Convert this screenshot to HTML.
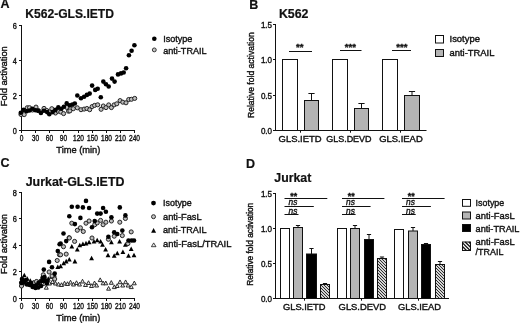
<!DOCTYPE html>
<html><head><meta charset="utf-8"><title>Figure</title>
<style>html,body{margin:0;padding:0;background:#fff;}body{width:520px;height:323px;overflow:hidden;}svg{display:block;will-change:transform;}text{font-family:"Liberation Sans", sans-serif;}</style>
</head><body>
<svg width="520" height="323" viewBox="0 0 520 323" font-family='"Liberation Sans", sans-serif'>
<rect width="520" height="323" fill="#fff"/>
<text x="0.6" y="8.4" font-size="12.5" font-weight="bold" fill="#111" stroke="#111" stroke-width="0.2">A</text>
<text x="249.3" y="8.5" font-size="12.5" font-weight="bold" fill="#111" stroke="#111" stroke-width="0.2">B</text>
<text x="0.4" y="167.4" font-size="12.5" font-weight="bold" fill="#111" stroke="#111" stroke-width="0.2">C</text>
<text x="246.1" y="167.8" font-size="12.5" font-weight="bold" fill="#111" stroke="#111" stroke-width="0.2">D</text>
<text x="25.2" y="17.9" font-size="12.5" font-weight="bold" textLength="88.8" lengthAdjust="spacingAndGlyphs" fill="#111" stroke="#111" stroke-width="0.2">K562-GLS.IETD</text>
<text x="278.9" y="17.9" font-size="12.6" font-weight="bold" textLength="29.6" lengthAdjust="spacingAndGlyphs" fill="#111" stroke="#111" stroke-width="0.2">K562</text>
<text x="25.7" y="185.9" font-size="12.4" font-weight="bold" textLength="98.8" lengthAdjust="spacingAndGlyphs" fill="#111" stroke="#111" stroke-width="0.2">Jurkat-GLS.IETD</text>
<text x="274.3" y="181.6" font-size="12.4" font-weight="bold" textLength="37.0" lengthAdjust="spacingAndGlyphs" fill="#111" stroke="#111" stroke-width="0.2">Jurkat</text>
<line x1="21.5" y1="25.0" x2="21.5" y2="131.0" stroke="#111" stroke-width="1.0"/>
<line x1="19.0" y1="25.5" x2="21.5" y2="25.5" stroke="#111" stroke-width="1.0"/>
<text x="16.9" y="28.5" font-size="8.4" text-anchor="end" textLength="4.1" lengthAdjust="spacingAndGlyphs" fill="#111" stroke="#111" stroke-width="0.38">6</text>
<line x1="19.0" y1="60.5" x2="21.5" y2="60.5" stroke="#111" stroke-width="1.0"/>
<text x="16.9" y="63.5" font-size="8.4" text-anchor="end" textLength="4.1" lengthAdjust="spacingAndGlyphs" fill="#111" stroke="#111" stroke-width="0.38">4</text>
<line x1="19.0" y1="95.5" x2="21.5" y2="95.5" stroke="#111" stroke-width="1.0"/>
<text x="16.9" y="98.5" font-size="8.4" text-anchor="end" textLength="4.1" lengthAdjust="spacingAndGlyphs" fill="#111" stroke="#111" stroke-width="0.38">2</text>
<line x1="19.0" y1="130.5" x2="21.5" y2="130.5" stroke="#111" stroke-width="1.0"/>
<text x="16.9" y="133.5" font-size="8.4" text-anchor="end" textLength="4.1" lengthAdjust="spacingAndGlyphs" fill="#111" stroke="#111" stroke-width="0.38">0</text>
<line x1="21.0" y1="130.5" x2="135.04000000000002" y2="130.5" stroke="#111" stroke-width="1.0"/>
<line x1="21.5" y1="130.5" x2="21.5" y2="133.0" stroke="#111" stroke-width="1.0"/>
<text x="21.5" y="141.1" font-size="8.3" text-anchor="middle" textLength="3.65" lengthAdjust="spacingAndGlyphs" fill="#111" stroke="#111" stroke-width="0.38">0</text>
<line x1="35.5" y1="130.5" x2="35.5" y2="133.0" stroke="#111" stroke-width="1.0"/>
<text x="35.5" y="141.1" font-size="8.3" text-anchor="middle" textLength="7.3" lengthAdjust="spacingAndGlyphs" fill="#111" stroke="#111" stroke-width="0.38">30</text>
<line x1="49.5" y1="130.5" x2="49.5" y2="133.0" stroke="#111" stroke-width="1.0"/>
<text x="49.5" y="141.1" font-size="8.3" text-anchor="middle" textLength="7.3" lengthAdjust="spacingAndGlyphs" fill="#111" stroke="#111" stroke-width="0.38">60</text>
<line x1="63.5" y1="130.5" x2="63.5" y2="133.0" stroke="#111" stroke-width="1.0"/>
<text x="63.5" y="141.1" font-size="8.3" text-anchor="middle" textLength="7.3" lengthAdjust="spacingAndGlyphs" fill="#111" stroke="#111" stroke-width="0.38">90</text>
<line x1="78.5" y1="130.5" x2="78.5" y2="133.0" stroke="#111" stroke-width="1.0"/>
<text x="78.5" y="141.1" font-size="8.3" text-anchor="middle" textLength="10.95" lengthAdjust="spacingAndGlyphs" fill="#111" stroke="#111" stroke-width="0.38">120</text>
<line x1="92.5" y1="130.5" x2="92.5" y2="133.0" stroke="#111" stroke-width="1.0"/>
<text x="92.5" y="141.1" font-size="8.3" text-anchor="middle" textLength="10.95" lengthAdjust="spacingAndGlyphs" fill="#111" stroke="#111" stroke-width="0.38">150</text>
<line x1="106.5" y1="130.5" x2="106.5" y2="133.0" stroke="#111" stroke-width="1.0"/>
<text x="106.5" y="141.1" font-size="8.3" text-anchor="middle" textLength="10.95" lengthAdjust="spacingAndGlyphs" fill="#111" stroke="#111" stroke-width="0.38">180</text>
<line x1="120.5" y1="130.5" x2="120.5" y2="133.0" stroke="#111" stroke-width="1.0"/>
<text x="120.5" y="141.1" font-size="8.3" text-anchor="middle" textLength="10.95" lengthAdjust="spacingAndGlyphs" fill="#111" stroke="#111" stroke-width="0.38">210</text>
<line x1="134.5" y1="130.5" x2="134.5" y2="133.0" stroke="#111" stroke-width="1.0"/>
<text x="134.5" y="141.1" font-size="8.3" text-anchor="middle" textLength="10.95" lengthAdjust="spacingAndGlyphs" fill="#111" stroke="#111" stroke-width="0.38">240</text>
<text x="56.3" y="152.6" font-size="9.3" textLength="44.1" lengthAdjust="spacingAndGlyphs" fill="#111" stroke="#111" stroke-width="0.38">Time (min)</text>
<text x="0" y="0" font-size="9.3" text-anchor="middle" fill="#111" stroke="#111" stroke-width="0.38" textLength="60" lengthAdjust="spacingAndGlyphs" transform="translate(7.0,76.25) rotate(-90)">Fold activation</text>
<line x1="21.5" y1="192.0" x2="21.5" y2="299.0" stroke="#111" stroke-width="1.0"/>
<line x1="19.0" y1="192.5" x2="21.5" y2="192.5" stroke="#111" stroke-width="1.0"/>
<text x="16.9" y="195.5" font-size="8.4" text-anchor="end" textLength="4.1" lengthAdjust="spacingAndGlyphs" fill="#111" stroke="#111" stroke-width="0.38">8</text>
<line x1="19.0" y1="218.5" x2="21.5" y2="218.5" stroke="#111" stroke-width="1.0"/>
<text x="16.9" y="221.5" font-size="8.4" text-anchor="end" textLength="4.1" lengthAdjust="spacingAndGlyphs" fill="#111" stroke="#111" stroke-width="0.38">6</text>
<line x1="19.0" y1="245.5" x2="21.5" y2="245.5" stroke="#111" stroke-width="1.0"/>
<text x="16.9" y="248.5" font-size="8.4" text-anchor="end" textLength="4.1" lengthAdjust="spacingAndGlyphs" fill="#111" stroke="#111" stroke-width="0.38">4</text>
<line x1="19.0" y1="271.5" x2="21.5" y2="271.5" stroke="#111" stroke-width="1.0"/>
<text x="16.9" y="274.5" font-size="8.4" text-anchor="end" textLength="4.1" lengthAdjust="spacingAndGlyphs" fill="#111" stroke="#111" stroke-width="0.38">2</text>
<line x1="19.0" y1="298.5" x2="21.5" y2="298.5" stroke="#111" stroke-width="1.0"/>
<text x="16.9" y="301.5" font-size="8.4" text-anchor="end" textLength="4.1" lengthAdjust="spacingAndGlyphs" fill="#111" stroke="#111" stroke-width="0.38">0</text>
<line x1="21.0" y1="298.5" x2="135.04000000000002" y2="298.5" stroke="#111" stroke-width="1.0"/>
<line x1="21.5" y1="298.5" x2="21.5" y2="301.0" stroke="#111" stroke-width="1.0"/>
<text x="21.5" y="309.1" font-size="8.3" text-anchor="middle" textLength="3.65" lengthAdjust="spacingAndGlyphs" fill="#111" stroke="#111" stroke-width="0.38">0</text>
<line x1="35.5" y1="298.5" x2="35.5" y2="301.0" stroke="#111" stroke-width="1.0"/>
<text x="35.5" y="309.1" font-size="8.3" text-anchor="middle" textLength="7.3" lengthAdjust="spacingAndGlyphs" fill="#111" stroke="#111" stroke-width="0.38">30</text>
<line x1="49.5" y1="298.5" x2="49.5" y2="301.0" stroke="#111" stroke-width="1.0"/>
<text x="49.5" y="309.1" font-size="8.3" text-anchor="middle" textLength="7.3" lengthAdjust="spacingAndGlyphs" fill="#111" stroke="#111" stroke-width="0.38">60</text>
<line x1="63.5" y1="298.5" x2="63.5" y2="301.0" stroke="#111" stroke-width="1.0"/>
<text x="63.5" y="309.1" font-size="8.3" text-anchor="middle" textLength="7.3" lengthAdjust="spacingAndGlyphs" fill="#111" stroke="#111" stroke-width="0.38">90</text>
<line x1="78.5" y1="298.5" x2="78.5" y2="301.0" stroke="#111" stroke-width="1.0"/>
<text x="78.5" y="309.1" font-size="8.3" text-anchor="middle" textLength="10.95" lengthAdjust="spacingAndGlyphs" fill="#111" stroke="#111" stroke-width="0.38">120</text>
<line x1="92.5" y1="298.5" x2="92.5" y2="301.0" stroke="#111" stroke-width="1.0"/>
<text x="92.5" y="309.1" font-size="8.3" text-anchor="middle" textLength="10.95" lengthAdjust="spacingAndGlyphs" fill="#111" stroke="#111" stroke-width="0.38">150</text>
<line x1="106.5" y1="298.5" x2="106.5" y2="301.0" stroke="#111" stroke-width="1.0"/>
<text x="106.5" y="309.1" font-size="8.3" text-anchor="middle" textLength="10.95" lengthAdjust="spacingAndGlyphs" fill="#111" stroke="#111" stroke-width="0.38">180</text>
<line x1="120.5" y1="298.5" x2="120.5" y2="301.0" stroke="#111" stroke-width="1.0"/>
<text x="120.5" y="309.1" font-size="8.3" text-anchor="middle" textLength="10.95" lengthAdjust="spacingAndGlyphs" fill="#111" stroke="#111" stroke-width="0.38">210</text>
<line x1="134.5" y1="298.5" x2="134.5" y2="301.0" stroke="#111" stroke-width="1.0"/>
<text x="134.5" y="309.1" font-size="8.3" text-anchor="middle" textLength="10.95" lengthAdjust="spacingAndGlyphs" fill="#111" stroke="#111" stroke-width="0.38">240</text>
<text x="56.3" y="320.6" font-size="9.3" textLength="44.1" lengthAdjust="spacingAndGlyphs" fill="#111" stroke="#111" stroke-width="0.38">Time (min)</text>
<text x="0" y="0" font-size="9.3" text-anchor="middle" fill="#111" stroke="#111" stroke-width="0.38" textLength="60" lengthAdjust="spacingAndGlyphs" transform="translate(7.0,244.0) rotate(-90)">Fold activation</text>
<circle cx="21" cy="114.5" r="2.05" fill="#bdbdbd" stroke="#1a1a1a" stroke-width="0.95"/>
<circle cx="24.2" cy="114.6" r="2.05" fill="#bdbdbd" stroke="#1a1a1a" stroke-width="0.95"/>
<circle cx="27.3" cy="107.7" r="2.05" fill="#bdbdbd" stroke="#1a1a1a" stroke-width="0.95"/>
<circle cx="29.5" cy="107.7" r="2.05" fill="#bdbdbd" stroke="#1a1a1a" stroke-width="0.95"/>
<circle cx="32.5" cy="110" r="2.05" fill="#bdbdbd" stroke="#1a1a1a" stroke-width="0.95"/>
<circle cx="36" cy="107.1" r="2.05" fill="#bdbdbd" stroke="#1a1a1a" stroke-width="0.95"/>
<circle cx="38.3" cy="110.5" r="2.05" fill="#bdbdbd" stroke="#1a1a1a" stroke-width="0.95"/>
<circle cx="41" cy="112" r="2.05" fill="#bdbdbd" stroke="#1a1a1a" stroke-width="0.95"/>
<circle cx="44" cy="108.4" r="2.05" fill="#bdbdbd" stroke="#1a1a1a" stroke-width="0.95"/>
<circle cx="46.8" cy="110.5" r="2.05" fill="#bdbdbd" stroke="#1a1a1a" stroke-width="0.95"/>
<circle cx="49.6" cy="112" r="2.05" fill="#bdbdbd" stroke="#1a1a1a" stroke-width="0.95"/>
<circle cx="51.8" cy="108.7" r="2.05" fill="#bdbdbd" stroke="#1a1a1a" stroke-width="0.95"/>
<circle cx="55.5" cy="113" r="2.05" fill="#bdbdbd" stroke="#1a1a1a" stroke-width="0.95"/>
<circle cx="58" cy="111.2" r="2.05" fill="#bdbdbd" stroke="#1a1a1a" stroke-width="0.95"/>
<circle cx="60.8" cy="112" r="2.05" fill="#bdbdbd" stroke="#1a1a1a" stroke-width="0.95"/>
<circle cx="63.6" cy="113.6" r="2.05" fill="#bdbdbd" stroke="#1a1a1a" stroke-width="0.95"/>
<circle cx="66.7" cy="107.4" r="2.05" fill="#bdbdbd" stroke="#1a1a1a" stroke-width="0.95"/>
<circle cx="68.5" cy="111.2" r="2.05" fill="#bdbdbd" stroke="#1a1a1a" stroke-width="0.95"/>
<circle cx="69.9" cy="110.9" r="2.05" fill="#bdbdbd" stroke="#1a1a1a" stroke-width="0.95"/>
<circle cx="73.3" cy="108.7" r="2.05" fill="#bdbdbd" stroke="#1a1a1a" stroke-width="0.95"/>
<circle cx="77.3" cy="107.8" r="2.05" fill="#bdbdbd" stroke="#1a1a1a" stroke-width="0.95"/>
<circle cx="81" cy="109.7" r="2.05" fill="#bdbdbd" stroke="#1a1a1a" stroke-width="0.95"/>
<circle cx="84.1" cy="109.1" r="2.05" fill="#bdbdbd" stroke="#1a1a1a" stroke-width="0.95"/>
<circle cx="86.9" cy="108.5" r="2.05" fill="#bdbdbd" stroke="#1a1a1a" stroke-width="0.95"/>
<circle cx="89.7" cy="109.7" r="2.05" fill="#bdbdbd" stroke="#1a1a1a" stroke-width="0.95"/>
<circle cx="92.1" cy="106.6" r="2.05" fill="#bdbdbd" stroke="#1a1a1a" stroke-width="0.95"/>
<circle cx="94.6" cy="105.4" r="2.05" fill="#bdbdbd" stroke="#1a1a1a" stroke-width="0.95"/>
<circle cx="97.7" cy="104.8" r="2.05" fill="#bdbdbd" stroke="#1a1a1a" stroke-width="0.95"/>
<circle cx="101.1" cy="109.3" r="2.05" fill="#bdbdbd" stroke="#1a1a1a" stroke-width="0.95"/>
<circle cx="103.3" cy="106" r="2.05" fill="#bdbdbd" stroke="#1a1a1a" stroke-width="0.95"/>
<circle cx="106" cy="107.6" r="2.05" fill="#bdbdbd" stroke="#1a1a1a" stroke-width="0.95"/>
<circle cx="108.7" cy="104.9" r="2.05" fill="#bdbdbd" stroke="#1a1a1a" stroke-width="0.95"/>
<circle cx="111.4" cy="107.6" r="2.05" fill="#bdbdbd" stroke="#1a1a1a" stroke-width="0.95"/>
<circle cx="114.1" cy="104.9" r="2.05" fill="#bdbdbd" stroke="#1a1a1a" stroke-width="0.95"/>
<circle cx="116.8" cy="103.8" r="2.05" fill="#bdbdbd" stroke="#1a1a1a" stroke-width="0.95"/>
<circle cx="120.1" cy="100.6" r="2.05" fill="#bdbdbd" stroke="#1a1a1a" stroke-width="0.95"/>
<circle cx="122.8" cy="102.2" r="2.05" fill="#bdbdbd" stroke="#1a1a1a" stroke-width="0.95"/>
<circle cx="126" cy="102.8" r="2.05" fill="#bdbdbd" stroke="#1a1a1a" stroke-width="0.95"/>
<circle cx="128.7" cy="99.5" r="2.05" fill="#bdbdbd" stroke="#1a1a1a" stroke-width="0.95"/>
<circle cx="131.4" cy="99.3" r="2.05" fill="#bdbdbd" stroke="#1a1a1a" stroke-width="0.95"/>
<circle cx="134.7" cy="98.4" r="2.05" fill="#bdbdbd" stroke="#1a1a1a" stroke-width="0.95"/>
<circle cx="20.8" cy="112.7" r="2.3" fill="#000"/>
<circle cx="23.6" cy="109.9" r="2.3" fill="#000"/>
<circle cx="26.7" cy="111.2" r="2.3" fill="#000"/>
<circle cx="29.5" cy="110.5" r="2.3" fill="#000"/>
<circle cx="32.3" cy="108.7" r="2.3" fill="#000"/>
<circle cx="35.4" cy="110.2" r="2.3" fill="#000"/>
<circle cx="38.1" cy="110.8" r="2.3" fill="#000"/>
<circle cx="40.9" cy="113" r="2.3" fill="#000"/>
<circle cx="44" cy="110.8" r="2.3" fill="#000"/>
<circle cx="47.1" cy="112.1" r="2.3" fill="#000"/>
<circle cx="49.3" cy="114.3" r="2.3" fill="#000"/>
<circle cx="52.7" cy="112.1" r="2.3" fill="#000"/>
<circle cx="55.5" cy="109.9" r="2.3" fill="#000"/>
<circle cx="58.3" cy="107.4" r="2.3" fill="#000"/>
<circle cx="61.4" cy="108.7" r="2.3" fill="#000"/>
<circle cx="63.9" cy="106.8" r="2.3" fill="#000"/>
<circle cx="66.7" cy="103.4" r="2.3" fill="#000"/>
<circle cx="69.9" cy="105.4" r="2.3" fill="#000"/>
<circle cx="72.4" cy="104.5" r="2.3" fill="#000"/>
<circle cx="74.8" cy="103.5" r="2.3" fill="#000"/>
<circle cx="77.3" cy="95.5" r="2.3" fill="#000"/>
<circle cx="81" cy="98.3" r="2.3" fill="#000"/>
<circle cx="84.1" cy="96.7" r="2.3" fill="#000"/>
<circle cx="86.9" cy="94.9" r="2.3" fill="#000"/>
<circle cx="89.7" cy="93.6" r="2.3" fill="#000"/>
<circle cx="92.1" cy="85.6" r="2.3" fill="#000"/>
<circle cx="95.2" cy="89.9" r="2.3" fill="#000"/>
<circle cx="97.7" cy="88.7" r="2.3" fill="#000"/>
<circle cx="100.8" cy="97.3" r="2.3" fill="#000"/>
<circle cx="103.3" cy="81.6" r="2.3" fill="#000"/>
<circle cx="106" cy="84.3" r="2.3" fill="#000"/>
<circle cx="108.7" cy="86.5" r="2.3" fill="#000"/>
<circle cx="112" cy="78.6" r="2.3" fill="#000"/>
<circle cx="114.6" cy="81.6" r="2.3" fill="#000"/>
<circle cx="118" cy="74.4" r="2.3" fill="#000"/>
<circle cx="121" cy="73.4" r="2.3" fill="#000"/>
<circle cx="123.7" cy="72.5" r="2.3" fill="#000"/>
<circle cx="126.1" cy="68.2" r="2.3" fill="#000"/>
<circle cx="128.9" cy="55.2" r="2.3" fill="#000"/>
<circle cx="131.6" cy="50.8" r="2.3" fill="#000"/>
<circle cx="134.4" cy="45.2" r="2.3" fill="#000"/>
<circle cx="154.3" cy="38.8" r="2.3" fill="#000"/>
<text x="163.2" y="41.8" font-size="9.3" textLength="29.2" lengthAdjust="spacingAndGlyphs" fill="#111" stroke="#111" stroke-width="0.38">Isotype</text>
<circle cx="154.3" cy="49.9" r="1.95" fill="#c4c4c4" stroke="#222" stroke-width="0.9"/>
<text x="163.2" y="53.6" font-size="9.3" textLength="43.4" lengthAdjust="spacingAndGlyphs" fill="#111" stroke="#111" stroke-width="0.38">anti-TRAIL</text>
<line x1="275.5" y1="24.0" x2="275.5" y2="131.0" stroke="#111" stroke-width="1.0"/>
<line x1="273.0" y1="24.5" x2="275.5" y2="24.5" stroke="#111" stroke-width="1.0"/>
<text x="272.1" y="27.5" font-size="8.5" text-anchor="end" textLength="11.2" lengthAdjust="spacingAndGlyphs" fill="#111" stroke="#111" stroke-width="0.38">1.5</text>
<line x1="273.0" y1="59.5" x2="275.5" y2="59.5" stroke="#111" stroke-width="1.0"/>
<text x="272.1" y="62.5" font-size="8.5" text-anchor="end" textLength="11.2" lengthAdjust="spacingAndGlyphs" fill="#111" stroke="#111" stroke-width="0.38">1.0</text>
<line x1="273.0" y1="95.5" x2="275.5" y2="95.5" stroke="#111" stroke-width="1.0"/>
<text x="272.1" y="98.5" font-size="8.5" text-anchor="end" textLength="11.2" lengthAdjust="spacingAndGlyphs" fill="#111" stroke="#111" stroke-width="0.38">0.5</text>
<line x1="273.0" y1="130.5" x2="275.5" y2="130.5" stroke="#111" stroke-width="1.0"/>
<text x="272.1" y="133.5" font-size="8.5" text-anchor="end" textLength="11.2" lengthAdjust="spacingAndGlyphs" fill="#111" stroke="#111" stroke-width="0.38">0.0</text>
<line x1="275.0" y1="130.5" x2="426.5" y2="130.5" stroke="#111" stroke-width="1.0"/>
<line x1="300.5" y1="130.5" x2="300.5" y2="132.7" stroke="#111" stroke-width="1.0"/>
<line x1="350.5" y1="130.5" x2="350.5" y2="132.7" stroke="#111" stroke-width="1.0"/>
<line x1="400.5" y1="130.5" x2="400.5" y2="132.7" stroke="#111" stroke-width="1.0"/>
<text x="278.6" y="142.1" font-size="8.8" textLength="43" lengthAdjust="spacingAndGlyphs" fill="#111" stroke="#111" stroke-width="0.38">GLS.IETD</text>
<text x="326.2" y="142.1" font-size="8.8" textLength="45.4" lengthAdjust="spacingAndGlyphs" fill="#111" stroke="#111" stroke-width="0.38">GLS.DEVD</text>
<text x="379.3" y="142.1" font-size="8.8" textLength="43.4" lengthAdjust="spacingAndGlyphs" fill="#111" stroke="#111" stroke-width="0.38">GLS.IEAD</text>
<text x="0" y="0" font-size="8.4" text-anchor="middle" fill="#111" stroke="#111" stroke-width="0.38" textLength="85.8" lengthAdjust="spacingAndGlyphs" transform="translate(254.3,75.15) rotate(-90)">Relative fold activation</text>
<rect x="282.5" y="59.5" width="15.0" height="71.0" fill="#fff" stroke="#111" stroke-width="1.0"/>
<rect x="332.5" y="59.5" width="15.0" height="71.0" fill="#fff" stroke="#111" stroke-width="1.0"/>
<rect x="382.5" y="59.5" width="15.0" height="71.0" fill="#fff" stroke="#111" stroke-width="1.0"/>
<line x1="311.5" y1="93.5" x2="311.5" y2="100.5" stroke="#111" stroke-width="1.0"/>
<line x1="308.4" y1="93.5" x2="314.6" y2="93.5" stroke="#111" stroke-width="1.0"/>
<rect x="304.5" y="100.5" width="14.0" height="30.0" fill="#b4b4b4" stroke="#111" stroke-width="1.0"/>
<line x1="361.5" y1="103.5" x2="361.5" y2="108.5" stroke="#111" stroke-width="1.0"/>
<line x1="358.4" y1="103.5" x2="364.6" y2="103.5" stroke="#111" stroke-width="1.0"/>
<rect x="354.5" y="108.5" width="14.0" height="22.0" fill="#b4b4b4" stroke="#111" stroke-width="1.0"/>
<line x1="412.0" y1="91.5" x2="412.0" y2="95.5" stroke="#111" stroke-width="1.0"/>
<line x1="408.9" y1="91.5" x2="415.1" y2="91.5" stroke="#111" stroke-width="1.0"/>
<rect x="404.5" y="95.5" width="15.0" height="35.0" fill="#b4b4b4" stroke="#111" stroke-width="1.0"/>
<line x1="289.0" y1="51.5" x2="312.0" y2="51.5" stroke="#111" stroke-width="1.0"/>
<text x="299.8" y="50.4" font-size="9.6" text-anchor="middle" font-weight="bold" fill="#111" stroke="#111" stroke-width="0.35">**</text>
<line x1="340.0" y1="50.5" x2="361.5" y2="50.5" stroke="#111" stroke-width="1.0"/>
<text x="350.3" y="50.1" font-size="9.6" text-anchor="middle" font-weight="bold" fill="#111" stroke="#111" stroke-width="0.35">***</text>
<line x1="392.0" y1="50.5" x2="411.0" y2="50.5" stroke="#111" stroke-width="1.0"/>
<text x="401.8" y="49.8" font-size="9.6" text-anchor="middle" font-weight="bold" fill="#111" stroke="#111" stroke-width="0.35">***</text>
<rect x="435.5" y="35.5" width="8.0" height="7.5" fill="#fff" stroke="#111" stroke-width="1.0"/>
<rect x="435.5" y="49.5" width="8.0" height="7.0" fill="#b4b4b4" stroke="#111" stroke-width="1.0"/>
<text x="449.5" y="42.2" font-size="9.3" textLength="30.5" lengthAdjust="spacingAndGlyphs" fill="#111" stroke="#111" stroke-width="0.38">Isotype</text>
<text x="449.5" y="56.2" font-size="9.3" textLength="44.9" lengthAdjust="spacingAndGlyphs" fill="#111" stroke="#111" stroke-width="0.38">anti-TRAIL</text>
<polygon points="21.50,282.76 19.53,286.50 23.47,286.50" fill="#e8e8e8" stroke="#1a1a1a" stroke-width="0.9"/>
<polygon points="24.50,280.76 22.53,284.50 26.47,284.50" fill="#e8e8e8" stroke="#1a1a1a" stroke-width="0.9"/>
<polygon points="27.50,281.76 25.53,285.50 29.47,285.50" fill="#e8e8e8" stroke="#1a1a1a" stroke-width="0.9"/>
<polygon points="30.50,281.26 28.53,285.00 32.47,285.00" fill="#e8e8e8" stroke="#1a1a1a" stroke-width="0.9"/>
<polygon points="33.50,280.76 31.53,284.50 35.47,284.50" fill="#e8e8e8" stroke="#1a1a1a" stroke-width="0.9"/>
<polygon points="36.50,281.76 34.53,285.50 38.47,285.50" fill="#e8e8e8" stroke="#1a1a1a" stroke-width="0.9"/>
<polygon points="39.50,280.76 37.53,284.50 41.47,284.50" fill="#e8e8e8" stroke="#1a1a1a" stroke-width="0.9"/>
<polygon points="42.50,281.76 40.53,285.50 44.47,285.50" fill="#e8e8e8" stroke="#1a1a1a" stroke-width="0.9"/>
<polygon points="46.30,285.46 44.33,289.20 48.27,289.20" fill="#e8e8e8" stroke="#1a1a1a" stroke-width="0.9"/>
<polygon points="49.50,281.26 47.53,285.00 51.47,285.00" fill="#e8e8e8" stroke="#1a1a1a" stroke-width="0.9"/>
<polygon points="52.50,279.76 50.53,283.50 54.47,283.50" fill="#e8e8e8" stroke="#1a1a1a" stroke-width="0.9"/>
<polygon points="55.50,281.26 53.53,285.00 57.47,285.00" fill="#e8e8e8" stroke="#1a1a1a" stroke-width="0.9"/>
<polygon points="58.50,282.26 56.53,286.00 60.47,286.00" fill="#e8e8e8" stroke="#1a1a1a" stroke-width="0.9"/>
<polygon points="61.50,282.76 59.53,286.50 63.47,286.50" fill="#e8e8e8" stroke="#1a1a1a" stroke-width="0.9"/>
<polygon points="64.50,281.26 62.53,285.00 66.47,285.00" fill="#e8e8e8" stroke="#1a1a1a" stroke-width="0.9"/>
<polygon points="67.50,281.76 65.53,285.50 69.47,285.50" fill="#e8e8e8" stroke="#1a1a1a" stroke-width="0.9"/>
<polygon points="70.50,280.26 68.53,284.00 72.47,284.00" fill="#e8e8e8" stroke="#1a1a1a" stroke-width="0.9"/>
<polygon points="73.50,282.26 71.53,286.00 75.47,286.00" fill="#e8e8e8" stroke="#1a1a1a" stroke-width="0.9"/>
<polygon points="76.50,280.76 74.53,284.50 78.47,284.50" fill="#e8e8e8" stroke="#1a1a1a" stroke-width="0.9"/>
<polygon points="79.50,282.26 77.53,286.00 81.47,286.00" fill="#e8e8e8" stroke="#1a1a1a" stroke-width="0.9"/>
<polygon points="82.50,279.26 80.53,283.00 84.47,283.00" fill="#e8e8e8" stroke="#1a1a1a" stroke-width="0.9"/>
<polygon points="85.50,282.76 83.53,286.50 87.47,286.50" fill="#e8e8e8" stroke="#1a1a1a" stroke-width="0.9"/>
<polygon points="88.50,280.76 86.53,284.50 90.47,284.50" fill="#e8e8e8" stroke="#1a1a1a" stroke-width="0.9"/>
<polygon points="91.50,283.76 89.53,287.50 93.47,287.50" fill="#e8e8e8" stroke="#1a1a1a" stroke-width="0.9"/>
<polygon points="94.50,281.06 92.53,284.80 96.47,284.80" fill="#e8e8e8" stroke="#1a1a1a" stroke-width="0.9"/>
<polygon points="96.60,283.26 94.63,287.00 98.57,287.00" fill="#e8e8e8" stroke="#1a1a1a" stroke-width="0.9"/>
<polygon points="100.20,277.86 98.23,281.60 102.17,281.60" fill="#e8e8e8" stroke="#1a1a1a" stroke-width="0.9"/>
<polygon points="103.10,281.06 101.13,284.80 105.07,284.80" fill="#e8e8e8" stroke="#1a1a1a" stroke-width="0.9"/>
<polygon points="105.80,281.06 103.83,284.80 107.77,284.80" fill="#e8e8e8" stroke="#1a1a1a" stroke-width="0.9"/>
<polygon points="108.60,286.46 106.63,290.20 110.57,290.20" fill="#e8e8e8" stroke="#1a1a1a" stroke-width="0.9"/>
<polygon points="111.30,280.56 109.33,284.30 113.27,284.30" fill="#e8e8e8" stroke="#1a1a1a" stroke-width="0.9"/>
<polygon points="114.30,284.86 112.33,288.60 116.27,288.60" fill="#e8e8e8" stroke="#1a1a1a" stroke-width="0.9"/>
<polygon points="117.20,283.76 115.23,287.50 119.17,287.50" fill="#e8e8e8" stroke="#1a1a1a" stroke-width="0.9"/>
<polygon points="120.00,279.96 118.03,283.70 121.97,283.70" fill="#e8e8e8" stroke="#1a1a1a" stroke-width="0.9"/>
<polygon points="122.70,283.26 120.73,287.00 124.67,287.00" fill="#e8e8e8" stroke="#1a1a1a" stroke-width="0.9"/>
<polygon points="125.60,279.96 123.63,283.70 127.57,283.70" fill="#e8e8e8" stroke="#1a1a1a" stroke-width="0.9"/>
<polygon points="128.10,283.26 126.13,287.00 130.07,287.00" fill="#e8e8e8" stroke="#1a1a1a" stroke-width="0.9"/>
<polygon points="131.30,284.86 129.33,288.60 133.27,288.60" fill="#e8e8e8" stroke="#1a1a1a" stroke-width="0.9"/>
<polygon points="134.30,281.06 132.33,284.80 136.27,284.80" fill="#e8e8e8" stroke="#1a1a1a" stroke-width="0.9"/>
<polygon points="21.30,278.26 18.90,282.82 23.70,282.82" fill="#000"/>
<polygon points="24.30,272.66 21.90,277.22 26.70,277.22" fill="#000"/>
<polygon points="27.30,276.26 24.90,280.82 29.70,280.82" fill="#000"/>
<polygon points="30.30,278.26 27.90,282.82 32.70,282.82" fill="#000"/>
<polygon points="33.30,280.26 30.90,284.82 35.70,284.82" fill="#000"/>
<polygon points="36.30,279.26 33.90,283.82 38.70,283.82" fill="#000"/>
<polygon points="39.30,278.76 36.90,283.32 41.70,283.32" fill="#000"/>
<polygon points="42.30,277.26 39.90,281.82 44.70,281.82" fill="#000"/>
<polygon points="45.30,276.76 42.90,281.32 47.70,281.32" fill="#000"/>
<polygon points="48.30,276.26 45.90,280.82 50.70,280.82" fill="#000"/>
<polygon points="51.30,274.26 48.90,278.82 53.70,278.82" fill="#000"/>
<polygon points="54.30,272.26 51.90,276.82 56.70,276.82" fill="#000"/>
<polygon points="57.80,264.56 55.40,269.12 60.20,269.12" fill="#000"/>
<polygon points="60.60,263.76 58.20,268.32 63.00,268.32" fill="#000"/>
<polygon points="63.70,260.66 61.30,265.22 66.10,265.22" fill="#000"/>
<polygon points="66.20,258.86 63.80,263.42 68.60,263.42" fill="#000"/>
<polygon points="69.30,256.96 66.90,261.52 71.70,261.52" fill="#000"/>
<polygon points="71.80,243.96 69.40,248.52 74.20,248.52" fill="#000"/>
<polygon points="74.90,258.86 72.50,263.42 77.30,263.42" fill="#000"/>
<polygon points="77.30,247.06 74.90,251.62 79.70,251.62" fill="#000"/>
<polygon points="79.80,242.76 77.40,247.32 82.20,247.32" fill="#000"/>
<polygon points="82.90,241.46 80.50,246.02 85.30,246.02" fill="#000"/>
<polygon points="86.00,240.86 83.60,245.42 88.40,245.42" fill="#000"/>
<polygon points="89.10,239.66 86.70,244.22 91.50,244.22" fill="#000"/>
<polygon points="91.60,255.76 89.20,260.32 94.00,260.32" fill="#000"/>
<polygon points="94.00,239.06 91.60,243.62 96.40,243.62" fill="#000"/>
<polygon points="97.20,237.76 94.80,242.32 99.60,242.32" fill="#000"/>
<polygon points="100.60,239.06 98.20,243.62 103.00,243.62" fill="#000"/>
<polygon points="102.50,242.16 100.10,246.72 104.90,246.72" fill="#000"/>
<polygon points="105.60,247.06 103.20,251.62 108.00,251.62" fill="#000"/>
<polygon points="108.00,252.66 105.60,257.22 110.40,257.22" fill="#000"/>
<polygon points="111.40,239.66 109.00,244.22 113.80,244.22" fill="#000"/>
<polygon points="114.20,253.26 111.80,257.82 116.60,257.82" fill="#000"/>
<polygon points="117.30,250.76 114.90,255.32 119.70,255.32" fill="#000"/>
<polygon points="119.60,239.06 117.20,243.62 122.00,243.62" fill="#000"/>
<polygon points="122.90,249.56 120.50,254.12 125.30,254.12" fill="#000"/>
<polygon points="125.40,242.16 123.00,246.72 127.80,246.72" fill="#000"/>
<polygon points="128.50,253.26 126.10,257.82 130.90,257.82" fill="#000"/>
<polygon points="131.20,246.46 128.80,251.02 133.60,251.02" fill="#000"/>
<polygon points="134.00,252.66 131.60,257.22 136.40,257.22" fill="#000"/>
<circle cx="21.5" cy="286" r="2.05" fill="#bdbdbd" stroke="#1a1a1a" stroke-width="0.95"/>
<circle cx="24.5" cy="283" r="2.05" fill="#bdbdbd" stroke="#1a1a1a" stroke-width="0.95"/>
<circle cx="27.5" cy="282" r="2.05" fill="#bdbdbd" stroke="#1a1a1a" stroke-width="0.95"/>
<circle cx="30.5" cy="284" r="2.05" fill="#bdbdbd" stroke="#1a1a1a" stroke-width="0.95"/>
<circle cx="33.5" cy="283" r="2.05" fill="#bdbdbd" stroke="#1a1a1a" stroke-width="0.95"/>
<circle cx="36.5" cy="281.5" r="2.05" fill="#bdbdbd" stroke="#1a1a1a" stroke-width="0.95"/>
<circle cx="39.5" cy="282.5" r="2.05" fill="#bdbdbd" stroke="#1a1a1a" stroke-width="0.95"/>
<circle cx="43.3" cy="274.8" r="2.05" fill="#bdbdbd" stroke="#1a1a1a" stroke-width="0.95"/>
<circle cx="46" cy="280" r="2.05" fill="#bdbdbd" stroke="#1a1a1a" stroke-width="0.95"/>
<circle cx="49.1" cy="272" r="2.05" fill="#bdbdbd" stroke="#1a1a1a" stroke-width="0.95"/>
<circle cx="52" cy="276" r="2.05" fill="#bdbdbd" stroke="#1a1a1a" stroke-width="0.95"/>
<circle cx="54.7" cy="279" r="2.05" fill="#bdbdbd" stroke="#1a1a1a" stroke-width="0.95"/>
<circle cx="57.2" cy="260.5" r="2.05" fill="#bdbdbd" stroke="#1a1a1a" stroke-width="0.95"/>
<circle cx="59.4" cy="254.7" r="2.05" fill="#bdbdbd" stroke="#1a1a1a" stroke-width="0.95"/>
<circle cx="60.6" cy="254.8" r="2.05" fill="#bdbdbd" stroke="#1a1a1a" stroke-width="0.95"/>
<circle cx="63.5" cy="246.7" r="2.05" fill="#bdbdbd" stroke="#1a1a1a" stroke-width="0.95"/>
<circle cx="66.2" cy="254.1" r="2.05" fill="#bdbdbd" stroke="#1a1a1a" stroke-width="0.95"/>
<circle cx="69.1" cy="237.7" r="2.05" fill="#bdbdbd" stroke="#1a1a1a" stroke-width="0.95"/>
<circle cx="69.3" cy="238" r="2.05" fill="#bdbdbd" stroke="#1a1a1a" stroke-width="0.95"/>
<circle cx="71.8" cy="223.2" r="2.05" fill="#bdbdbd" stroke="#1a1a1a" stroke-width="0.95"/>
<circle cx="74.6" cy="241.4" r="2.05" fill="#bdbdbd" stroke="#1a1a1a" stroke-width="0.95"/>
<circle cx="77.3" cy="230.3" r="2.05" fill="#bdbdbd" stroke="#1a1a1a" stroke-width="0.95"/>
<circle cx="80.4" cy="227.8" r="2.05" fill="#bdbdbd" stroke="#1a1a1a" stroke-width="0.95"/>
<circle cx="83.3" cy="231.5" r="2.05" fill="#bdbdbd" stroke="#1a1a1a" stroke-width="0.95"/>
<circle cx="86" cy="223.2" r="2.05" fill="#bdbdbd" stroke="#1a1a1a" stroke-width="0.95"/>
<circle cx="89.1" cy="221" r="2.05" fill="#bdbdbd" stroke="#1a1a1a" stroke-width="0.95"/>
<circle cx="92" cy="238" r="2.05" fill="#bdbdbd" stroke="#1a1a1a" stroke-width="0.95"/>
<circle cx="94.7" cy="224.7" r="2.05" fill="#bdbdbd" stroke="#1a1a1a" stroke-width="0.95"/>
<circle cx="97.2" cy="222.9" r="2.05" fill="#bdbdbd" stroke="#1a1a1a" stroke-width="0.95"/>
<circle cx="100.6" cy="220.4" r="2.05" fill="#bdbdbd" stroke="#1a1a1a" stroke-width="0.95"/>
<circle cx="103.1" cy="224.7" r="2.05" fill="#bdbdbd" stroke="#1a1a1a" stroke-width="0.95"/>
<circle cx="105.9" cy="222.2" r="2.05" fill="#bdbdbd" stroke="#1a1a1a" stroke-width="0.95"/>
<circle cx="108.4" cy="239.3" r="2.05" fill="#bdbdbd" stroke="#1a1a1a" stroke-width="0.95"/>
<circle cx="111.4" cy="221" r="2.05" fill="#bdbdbd" stroke="#1a1a1a" stroke-width="0.95"/>
<circle cx="114.2" cy="236.2" r="2.05" fill="#bdbdbd" stroke="#1a1a1a" stroke-width="0.95"/>
<circle cx="119.8" cy="222.2" r="2.05" fill="#bdbdbd" stroke="#1a1a1a" stroke-width="0.95"/>
<circle cx="122.3" cy="235.6" r="2.05" fill="#bdbdbd" stroke="#1a1a1a" stroke-width="0.95"/>
<circle cx="125.4" cy="218.5" r="2.05" fill="#bdbdbd" stroke="#1a1a1a" stroke-width="0.95"/>
<circle cx="127.9" cy="243.6" r="2.05" fill="#bdbdbd" stroke="#1a1a1a" stroke-width="0.95"/>
<circle cx="131.2" cy="231.9" r="2.05" fill="#bdbdbd" stroke="#1a1a1a" stroke-width="0.95"/>
<circle cx="21.3" cy="283" r="2.3" fill="#000"/>
<circle cx="24.1" cy="281" r="2.3" fill="#000"/>
<circle cx="27" cy="284.5" r="2.3" fill="#000"/>
<circle cx="29.8" cy="285" r="2.3" fill="#000"/>
<circle cx="32.6" cy="287" r="2.3" fill="#000"/>
<circle cx="35.5" cy="288" r="2.3" fill="#000"/>
<circle cx="38.3" cy="287.5" r="2.3" fill="#000"/>
<circle cx="41.1" cy="286" r="2.3" fill="#000"/>
<circle cx="43.8" cy="269.6" r="2.3" fill="#000"/>
<circle cx="46.8" cy="283.5" r="2.3" fill="#000"/>
<circle cx="49.1" cy="261.9" r="2.3" fill="#000"/>
<circle cx="52" cy="267.3" r="2.3" fill="#000"/>
<circle cx="54.7" cy="273.5" r="2.3" fill="#000"/>
<circle cx="57.8" cy="251" r="2.3" fill="#000"/>
<circle cx="59.6" cy="244.2" r="2.3" fill="#000"/>
<circle cx="60.6" cy="243.6" r="2.3" fill="#000"/>
<circle cx="63.5" cy="233.5" r="2.3" fill="#000"/>
<circle cx="66.2" cy="241.1" r="2.3" fill="#000"/>
<circle cx="69.3" cy="216.3" r="2.3" fill="#000"/>
<circle cx="71.8" cy="206.8" r="2.3" fill="#000"/>
<circle cx="74.9" cy="224.1" r="2.3" fill="#000"/>
<circle cx="77.6" cy="206.8" r="2.3" fill="#000"/>
<circle cx="80.4" cy="217.9" r="2.3" fill="#000"/>
<circle cx="82.9" cy="207.4" r="2.3" fill="#000"/>
<circle cx="86" cy="200.9" r="2.3" fill="#000"/>
<circle cx="89.1" cy="208" r="2.3" fill="#000"/>
<circle cx="92" cy="227.2" r="2.3" fill="#000"/>
<circle cx="94.7" cy="221" r="2.3" fill="#000"/>
<circle cx="97.2" cy="213.6" r="2.3" fill="#000"/>
<circle cx="100.6" cy="213.6" r="2.3" fill="#000"/>
<circle cx="103.1" cy="208" r="2.3" fill="#000"/>
<circle cx="105.9" cy="211.7" r="2.3" fill="#000"/>
<circle cx="108.4" cy="236.8" r="2.3" fill="#000"/>
<circle cx="111.4" cy="217.3" r="2.3" fill="#000"/>
<circle cx="114.2" cy="232.2" r="2.3" fill="#000"/>
<circle cx="117.3" cy="234" r="2.3" fill="#000"/>
<circle cx="119.8" cy="207.4" r="2.3" fill="#000"/>
<circle cx="122.3" cy="230.6" r="2.3" fill="#000"/>
<circle cx="125.4" cy="215.4" r="2.3" fill="#000"/>
<circle cx="128.5" cy="240.5" r="2.3" fill="#000"/>
<circle cx="131.6" cy="240.5" r="2.3" fill="#000"/>
<circle cx="134" cy="240.5" r="2.3" fill="#000"/>
<circle cx="44.5" cy="281" r="2.3" fill="#000"/>
<circle cx="38.5" cy="283" r="2.3" fill="#000"/>
<circle cx="22" cy="279" r="2.3" fill="#000"/>
<circle cx="23.5" cy="282.5" r="2.3" fill="#000"/>
<circle cx="26" cy="280" r="2.3" fill="#000"/>
<circle cx="28" cy="284" r="2.3" fill="#000"/>
<circle cx="31" cy="283" r="2.3" fill="#000"/>
<circle cx="33.5" cy="286" r="2.3" fill="#000"/>
<circle cx="36" cy="285.5" r="2.3" fill="#000"/>
<circle cx="41.5" cy="281" r="2.3" fill="#000"/>
<circle cx="42.5" cy="278" r="2.3" fill="#000"/>
<circle cx="44.5" cy="277" r="2.3" fill="#000"/>
<circle cx="47" cy="281" r="2.3" fill="#000"/>
<circle cx="153.5" cy="203.1" r="2.4" fill="#000"/>
<circle cx="153.5" cy="216.7" r="2.0" fill="#c4c4c4" stroke="#222" stroke-width="0.95"/>
<polygon points="153.6,228.0 151.1,232.7 156.1,232.7" fill="#000"/>
<polygon points="153.7,242.9 151.4,246.7 156.0,246.7" fill="#eee" stroke="#222" stroke-width="0.85"/>
<text x="163.0" y="206.2" font-size="9.3" textLength="28.8" lengthAdjust="spacingAndGlyphs" fill="#111" stroke="#111" stroke-width="0.38">Isotype</text>
<text x="163.0" y="219.6" font-size="9.3" textLength="38.6" lengthAdjust="spacingAndGlyphs" fill="#111" stroke="#111" stroke-width="0.38">anti-FasL</text>
<text x="163.0" y="233.2" font-size="9.3" textLength="43.5" lengthAdjust="spacingAndGlyphs" fill="#111" stroke="#111" stroke-width="0.38">anti-TRAIL</text>
<text x="163.0" y="247.2" font-size="9.3" textLength="68.4" lengthAdjust="spacingAndGlyphs" fill="#111" stroke="#111" stroke-width="0.38">anti-FasL/TRAIL</text>
<line x1="275.5" y1="193.0" x2="275.5" y2="299.0" stroke="#111" stroke-width="1.0"/>
<line x1="273.0" y1="193.5" x2="275.5" y2="193.5" stroke="#111" stroke-width="1.0"/>
<text x="272.1" y="196.5" font-size="8.5" text-anchor="end" textLength="11.2" lengthAdjust="spacingAndGlyphs" fill="#111" stroke="#111" stroke-width="0.38">1.5</text>
<line x1="273.0" y1="228.5" x2="275.5" y2="228.5" stroke="#111" stroke-width="1.0"/>
<text x="272.1" y="231.5" font-size="8.5" text-anchor="end" textLength="11.2" lengthAdjust="spacingAndGlyphs" fill="#111" stroke="#111" stroke-width="0.38">1.0</text>
<line x1="273.0" y1="263.5" x2="275.5" y2="263.5" stroke="#111" stroke-width="1.0"/>
<text x="272.1" y="266.5" font-size="8.5" text-anchor="end" textLength="11.2" lengthAdjust="spacingAndGlyphs" fill="#111" stroke="#111" stroke-width="0.38">0.5</text>
<line x1="273.0" y1="298.5" x2="275.5" y2="298.5" stroke="#111" stroke-width="1.0"/>
<text x="272.1" y="301.5" font-size="8.5" text-anchor="end" textLength="11.2" lengthAdjust="spacingAndGlyphs" fill="#111" stroke="#111" stroke-width="0.38">0.0</text>
<line x1="275.0" y1="298.5" x2="449.0" y2="298.5" stroke="#111" stroke-width="1.0"/>
<line x1="304.5" y1="298.5" x2="304.5" y2="300.7" stroke="#111" stroke-width="1.0"/>
<line x1="361.5" y1="298.5" x2="361.5" y2="300.7" stroke="#111" stroke-width="1.0"/>
<line x1="418.5" y1="298.5" x2="418.5" y2="300.7" stroke="#111" stroke-width="1.0"/>
<text x="283.0" y="310.1" font-size="8.8" textLength="42.4" lengthAdjust="spacingAndGlyphs" fill="#111" stroke="#111" stroke-width="0.38">GLS.IETD</text>
<text x="338.6" y="310.1" font-size="8.8" textLength="47.4" lengthAdjust="spacingAndGlyphs" fill="#111" stroke="#111" stroke-width="0.38">GLS.DEVD</text>
<text x="398.0" y="310.1" font-size="8.8" textLength="43.0" lengthAdjust="spacingAndGlyphs" fill="#111" stroke="#111" stroke-width="0.38">GLS.IEAD</text>
<text x="0" y="0" font-size="8.4" text-anchor="middle" fill="#111" stroke="#111" stroke-width="0.38" textLength="83.0" lengthAdjust="spacingAndGlyphs" transform="translate(253.0,244.3) rotate(-90)">Relative fold activation</text>
<defs><pattern id="hatch" patternUnits="userSpaceOnUse" x="0" y="0" width="2.6" height="2.6"><rect width="2.6" height="2.6" fill="#fff"/><path d="M-1,-1 L3.6,3.6 M-1,1.6 L1,3.6 M1.6,-1 L3.6,1" stroke="#111" stroke-width="1.05"/></pattern></defs>
<rect x="280.5" y="228.5" width="9.0" height="70.0" fill="#fff" stroke="#111" stroke-width="1.0"/>
<line x1="298.0" y1="225.5" x2="298.0" y2="227.5" stroke="#111" stroke-width="1.0"/>
<line x1="295.9" y1="225.5" x2="300.1" y2="225.5" stroke="#111" stroke-width="1.0"/>
<rect x="293.5" y="227.5" width="9.0" height="71.0" fill="#b4b4b4" stroke="#111" stroke-width="1.0"/>
<line x1="311.5" y1="248.5" x2="311.5" y2="254.0" stroke="#111" stroke-width="1.0"/>
<line x1="309.4" y1="248.5" x2="313.6" y2="248.5" stroke="#111" stroke-width="1.0"/>
<rect x="306.5" y="254.0" width="10.0" height="44.5" fill="#000" stroke="#111" stroke-width="1.0"/>
<line x1="325.0" y1="283.5" x2="325.0" y2="284.5" stroke="#111" stroke-width="1.0"/>
<line x1="322.9" y1="283.5" x2="327.1" y2="283.5" stroke="#111" stroke-width="1.0"/>
<rect x="320.5" y="284.5" width="9.0" height="14.0" fill="#fff"/>
<path d="M326.50,284.50L329.50,287.50M323.50,284.50L329.50,290.50M320.50,284.50L329.50,293.50M320.50,287.50L329.50,296.50M320.50,290.50L328.50,298.50M320.50,293.50L325.50,298.50M320.50,296.50L322.50,298.50" stroke="#111" stroke-width="1.05" fill="none"/>
<rect x="320.5" y="284.5" width="9.0" height="14.0" fill="none" stroke="#111" stroke-width="1.0"/>
<rect x="337.5" y="228.5" width="9.0" height="70.0" fill="#fff" stroke="#111" stroke-width="1.0"/>
<line x1="355.0" y1="225.5" x2="355.0" y2="228.5" stroke="#111" stroke-width="1.0"/>
<line x1="352.9" y1="225.5" x2="357.1" y2="225.5" stroke="#111" stroke-width="1.0"/>
<rect x="350.5" y="228.5" width="9.0" height="70.0" fill="#b4b4b4" stroke="#111" stroke-width="1.0"/>
<line x1="369.0" y1="234.5" x2="369.0" y2="239.5" stroke="#111" stroke-width="1.0"/>
<line x1="366.9" y1="234.5" x2="371.1" y2="234.5" stroke="#111" stroke-width="1.0"/>
<rect x="364.5" y="239.5" width="9.0" height="59.0" fill="#000" stroke="#111" stroke-width="1.0"/>
<line x1="382.0" y1="257.0" x2="382.0" y2="258.5" stroke="#111" stroke-width="1.0"/>
<line x1="379.9" y1="257.0" x2="384.1" y2="257.0" stroke="#111" stroke-width="1.0"/>
<rect x="377.5" y="258.5" width="9.0" height="40.0" fill="#fff"/>
<path d="M384.50,258.50L386.50,260.50M381.50,258.50L386.50,263.50M378.50,258.50L386.50,266.50M377.50,260.50L386.50,269.50M377.50,263.50L386.50,272.50M377.50,266.50L386.50,275.50M377.50,269.50L386.50,278.50M377.50,272.50L386.50,281.50M377.50,275.50L386.50,284.50M377.50,278.50L386.50,287.50M377.50,281.50L386.50,290.50M377.50,284.50L386.50,293.50M377.50,287.50L386.50,296.50M377.50,290.50L385.50,298.50M377.50,293.50L382.50,298.50M377.50,296.50L379.50,298.50" stroke="#111" stroke-width="1.05" fill="none"/>
<rect x="377.5" y="258.5" width="9.0" height="40.0" fill="none" stroke="#111" stroke-width="1.0"/>
<rect x="394.5" y="229.5" width="9.0" height="69.0" fill="#fff" stroke="#111" stroke-width="1.0"/>
<line x1="413.0" y1="227.5" x2="413.0" y2="231.0" stroke="#111" stroke-width="1.0"/>
<line x1="410.9" y1="227.5" x2="415.1" y2="227.5" stroke="#111" stroke-width="1.0"/>
<rect x="408.5" y="231.0" width="9.0" height="67.5" fill="#b4b4b4" stroke="#111" stroke-width="1.0"/>
<line x1="426.0" y1="243.5" x2="426.0" y2="244.5" stroke="#111" stroke-width="1.0"/>
<line x1="423.9" y1="243.5" x2="428.1" y2="243.5" stroke="#111" stroke-width="1.0"/>
<rect x="421.5" y="244.5" width="9.0" height="54.0" fill="#000" stroke="#111" stroke-width="1.0"/>
<line x1="440.0" y1="261.5" x2="440.0" y2="264.5" stroke="#111" stroke-width="1.0"/>
<line x1="437.9" y1="261.5" x2="442.1" y2="261.5" stroke="#111" stroke-width="1.0"/>
<rect x="435.5" y="264.5" width="9.0" height="34.0" fill="#fff"/>
<path d="M441.50,264.50L444.50,267.50M438.50,264.50L444.50,270.50M435.50,264.50L444.50,273.50M435.50,267.50L444.50,276.50M435.50,270.50L444.50,279.50M435.50,273.50L444.50,282.50M435.50,276.50L444.50,285.50M435.50,279.50L444.50,288.50M435.50,282.50L444.50,291.50M435.50,285.50L444.50,294.50M435.50,288.50L444.50,297.50M435.50,291.50L442.50,298.50M435.50,294.50L439.50,298.50M435.50,297.50L436.50,298.50" stroke="#111" stroke-width="1.05" fill="none"/>
<rect x="435.5" y="264.5" width="9.0" height="34.0" fill="none" stroke="#111" stroke-width="1.0"/>
<line x1="284.5" y1="198.5" x2="327.3" y2="198.5" stroke="#111" stroke-width="1.0"/>
<line x1="284.5" y1="206.5" x2="313.8" y2="206.5" stroke="#111" stroke-width="1.0"/>
<line x1="284.5" y1="214.5" x2="298.5" y2="214.5" stroke="#111" stroke-width="1.0"/>
<text x="293.8" y="198.7" font-size="8.8" text-anchor="middle" font-weight="bold" fill="#111" stroke="#111" stroke-width="0.35">**</text>
<text x="288.5" y="205.2" font-size="9.0" font-style="italic" textLength="8.8" lengthAdjust="spacingAndGlyphs" fill="#111" stroke="#111" stroke-width="0.38">ns</text>
<text x="288.5" y="213.5" font-size="9.0" font-style="italic" textLength="8.8" lengthAdjust="spacingAndGlyphs" fill="#111" stroke="#111" stroke-width="0.38">ns</text>
<line x1="342.0" y1="198.5" x2="384.4" y2="198.5" stroke="#111" stroke-width="1.0"/>
<line x1="342.0" y1="206.5" x2="370.6" y2="206.5" stroke="#111" stroke-width="1.0"/>
<line x1="342.0" y1="214.5" x2="355.6" y2="214.5" stroke="#111" stroke-width="1.0"/>
<text x="351.3" y="198.7" font-size="8.8" text-anchor="middle" font-weight="bold" fill="#111" stroke="#111" stroke-width="0.35">**</text>
<text x="346.0" y="205.2" font-size="9.0" font-style="italic" textLength="8.8" lengthAdjust="spacingAndGlyphs" fill="#111" stroke="#111" stroke-width="0.38">ns</text>
<text x="346.0" y="213.5" font-size="9.0" font-style="italic" textLength="8.8" lengthAdjust="spacingAndGlyphs" fill="#111" stroke="#111" stroke-width="0.38">ns</text>
<line x1="402.0" y1="198.5" x2="444.6" y2="198.5" stroke="#111" stroke-width="1.0"/>
<line x1="402.0" y1="206.5" x2="430.9" y2="206.5" stroke="#111" stroke-width="1.0"/>
<line x1="402.0" y1="214.5" x2="415.7" y2="214.5" stroke="#111" stroke-width="1.0"/>
<text x="411.3" y="198.7" font-size="8.8" text-anchor="middle" font-weight="bold" fill="#111" stroke="#111" stroke-width="0.35">**</text>
<text x="406.0" y="205.2" font-size="9.0" font-style="italic" textLength="8.8" lengthAdjust="spacingAndGlyphs" fill="#111" stroke="#111" stroke-width="0.38">ns</text>
<text x="406.0" y="213.5" font-size="9.0" font-style="italic" textLength="8.8" lengthAdjust="spacingAndGlyphs" fill="#111" stroke="#111" stroke-width="0.38">ns</text>
<rect x="462.5" y="199.5" width="8.0" height="6.8" fill="#fff" stroke="#111" stroke-width="1.0"/>
<rect x="462.5" y="212.0" width="8.0" height="7.0" fill="#b4b4b4" stroke="#111" stroke-width="1.0"/>
<rect x="462.5" y="224.5" width="8.0" height="7.0" fill="#000" stroke="#111" stroke-width="1.0"/>
<defs><pattern id="hatch2" patternUnits="userSpaceOnUse" width="3.4" height="3.4" patternTransform="rotate(-45)"><rect width="3.4" height="3.4" fill="#fff"/><rect x="0" y="0" width="1.7" height="3.4" fill="#111"/></pattern></defs>
<rect x="462.5" y="242.0" width="8.0" height="8.5" fill="#fff"/>
<path d="M468.80,242.00L470.50,243.70M465.20,242.00L470.50,247.30M462.50,242.90L470.10,250.50M462.50,246.50L466.50,250.50M462.50,250.10L462.90,250.50" stroke="#111" stroke-width="1.3" fill="none"/>
<rect x="462.5" y="242.0" width="8.0" height="8.5" fill="none" stroke="#111" stroke-width="1.0"/>
<text x="475.6" y="206.0" font-size="9.3" textLength="28.6" lengthAdjust="spacingAndGlyphs" fill="#111" stroke="#111" stroke-width="0.38">Isotype</text>
<text x="475.6" y="219.0" font-size="9.3" textLength="39.0" lengthAdjust="spacingAndGlyphs" fill="#111" stroke="#111" stroke-width="0.38">anti-FasL</text>
<text x="475.6" y="231.8" font-size="9.3" textLength="43.8" lengthAdjust="spacingAndGlyphs" fill="#111" stroke="#111" stroke-width="0.38">anti-TRAIL</text>
<text x="475.6" y="244.9" font-size="9.3" textLength="39.0" lengthAdjust="spacingAndGlyphs" fill="#111" stroke="#111" stroke-width="0.38">anti-FasL</text>
<text x="475.6" y="254.8" font-size="9.3" textLength="27.8" lengthAdjust="spacingAndGlyphs" fill="#111" stroke="#111" stroke-width="0.38">/TRAIL</text>
</svg>
</body></html>
